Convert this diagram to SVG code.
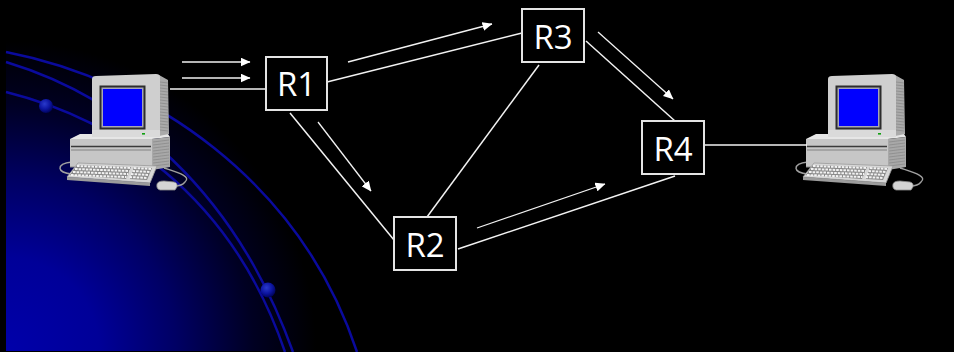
<svg xmlns="http://www.w3.org/2000/svg" xmlns:xlink="http://www.w3.org/1999/xlink" width="954" height="352" viewBox="0 0 954 352">
  <style>
    .link{stroke:#f2f2f2;stroke-width:1.5;fill:none}
    .flow{stroke:#f2f2f2;stroke-width:1.3;fill:none;marker-end:url(#head)}
    .router rect{fill:#000;stroke:#e4e4e4;stroke-width:2}
    .router text{fill:#fff;font-family:"Open Sans","Noto Sans","Liberation Sans",sans-serif;font-size:33px;text-anchor:middle}
    .orbit{fill:none;stroke:#0a0a9c;stroke-width:2.5}
    .vent{stroke:#8a8a8a;stroke-width:0.8}
    .keys{stroke:#f2f2f2;stroke-width:2;stroke-dasharray:2.6 1}
  </style>
  <defs>
    <radialGradient id="planet" gradientUnits="userSpaceOnUse" cx="6" cy="351" r="310">
      <stop offset="0" stop-color="#0000aa"/>
      <stop offset="0.3" stop-color="#000098"/>
      <stop offset="0.55" stop-color="#000064"/>
      <stop offset="0.8" stop-color="#000022"/>
      <stop offset="1" stop-color="#000000"/>
    </radialGradient>
    <radialGradient id="bead" cx="0.4" cy="0.35" r="0.65">
      <stop offset="0" stop-color="#2a3acc"/>
      <stop offset="0.6" stop-color="#0c14a0"/>
      <stop offset="1" stop-color="#00045c"/>
    </radialGradient>
    <marker id="head" markerUnits="userSpaceOnUse" viewBox="0 0 10 9" markerWidth="10" markerHeight="9" refX="9.5" refY="4.5" orient="auto">
      <path d="M0,0 L10,4.5 L0,9 Z" fill="#fff"/>
    </marker>

    <!-- desktop computer: CRT monitor on a flat case, keyboard and mouse -->
    <g id="pc">
      <!-- cables -->
      <path d="M72,174 C57,173 55,164 72,162" fill="none" stroke="#a0a0a0" stroke-width="1.4"/>
      <path d="M164,168 C176,172 192,176 185,182 C181,187 176,186 172,186" fill="none" stroke="#a0a0a0" stroke-width="1.4"/>
      <!-- case -->
      <polygon points="70,139 80,134 168,134 170,137 152,139" fill="#e6e6e6"/>
      <rect x="70" y="139" width="82" height="28" fill="#c6c6c6"/>
      <polygon points="152,139 170,137 170,167 152,170" fill="#a8a8a8"/>
      <g class="vent">
        <line x1="153" y1="142" x2="169" y2="140"/><line x1="153" y1="145" x2="169" y2="143"/>
        <line x1="153" y1="148" x2="169" y2="146"/><line x1="153" y1="151" x2="169" y2="149"/>
        <line x1="153" y1="154" x2="169" y2="152"/><line x1="153" y1="157" x2="169" y2="155"/>
        <line x1="153" y1="160" x2="169" y2="158"/><line x1="153" y1="163" x2="169" y2="161"/>
        <line x1="153" y1="166" x2="169" y2="164"/>
      </g>
      <line x1="71" y1="146.5" x2="151" y2="146.5" stroke="#3a3a3a" stroke-width="1.4"/>
      <line x1="71" y1="150" x2="151" y2="150" stroke="#7c7c7c" stroke-width="0.9"/>
      <line x1="70" y1="167" x2="152" y2="167" stroke="#8c8c8c" stroke-width="1"/>
      <!-- monitor -->
      <polygon points="159,75 168,80 169,134 159,136" fill="#aaaaaa"/>
      <g class="vent">
        <line x1="160" y1="82" x2="168" y2="83"/><line x1="160" y1="85" x2="168" y2="86"/>
        <line x1="160" y1="88" x2="168" y2="89"/><line x1="160" y1="91" x2="168" y2="92"/>
        <line x1="160" y1="94" x2="168" y2="95"/><line x1="160" y1="97" x2="168" y2="98"/>
        <line x1="160" y1="100" x2="168" y2="101"/><line x1="160" y1="103" x2="168" y2="104"/>
        <line x1="160" y1="106" x2="168" y2="107"/><line x1="160" y1="109" x2="168" y2="110"/>
        <line x1="160" y1="112" x2="168" y2="113"/><line x1="160" y1="115" x2="168" y2="116"/>
        <line x1="160" y1="118" x2="168" y2="119"/><line x1="160" y1="121" x2="168" y2="122"/>
        <line x1="160" y1="124" x2="168" y2="125"/><line x1="160" y1="127" x2="168" y2="128"/>
        <line x1="160" y1="130" x2="168" y2="131"/>
      </g>
      <path d="M92,79 Q92,76 96,76 L156,74 Q160,74 160,77 L160,137 L92,137 Z" fill="#cfcfcf"/>
      <path d="M92,130 L160,130 L160,137 L92,137 Z" fill="#dadada"/>
      <rect x="99.5" y="85.5" width="46" height="44" fill="#2c2c2c"/>
      <rect x="101.5" y="87.5" width="42" height="40" fill="#a6a6b6"/>
      <rect x="103" y="89" width="39" height="37" fill="#0000ff"/>
      <rect x="142" y="133" width="3" height="1.6" fill="#10a010"/>
      <!-- keyboard -->
      <polygon points="78,163 157,166 150,183 67,177" fill="#d6d6d6" stroke="#9a9a9a" stroke-width="0.8"/>
      <polygon points="67,177 150,183 150,186 67,180" fill="#9c9c9c"/>
      <polygon points="77,165 131,167 126,179 70,175" fill="#8a8a8a"/>
      <polygon points="134,167 152,168 147,180 130,179" fill="#8a8a8a"/>
      <g class="keys">
        <line x1="77" y1="166" x2="131" y2="168"/>
        <line x1="75" y1="169" x2="129.5" y2="171"/>
        <line x1="73" y1="172" x2="128" y2="174"/>
        <line x1="71" y1="175" x2="126.5" y2="177"/>
        <line x1="134" y1="168" x2="151.5" y2="169"/>
        <line x1="132.5" y1="171" x2="150" y2="172"/>
        <line x1="131" y1="174" x2="148.5" y2="175"/>
        <line x1="129.5" y1="177" x2="147" y2="178"/>
      </g>
      <!-- mouse -->
      <path d="M157,184 Q158,181 164,181 L174,182 Q178,183 177,187 L175,190 L160,190 Q156,189 157,184 Z" fill="#d4d4d4" stroke="#8a8a8a" stroke-width="0.8"/>
    </g>
  </defs>

  <!-- backdrop -->
  <rect x="0" y="0" width="954" height="352" fill="#000"/>
  <rect x="6" y="0" width="948" height="351" fill="url(#planet)"/>
  <g id="orbits">
    <path class="orbit" d="M6,52 C150,80 300,180 357,352"/>
    <path class="orbit" d="M6,62 C125,98 235,190 293,352"/>
    <path class="orbit" d="M6,92 C110,118 230,190 285,352"/>
    <circle cx="46" cy="106" r="7" fill="url(#bead)"/>
    <circle cx="268" cy="290" r="7.5" fill="url(#bead)"/>
  </g>

  <g id="host-a"><use xlink:href="#pc"/></g>
  <g id="host-b"><use xlink:href="#pc" transform="translate(736,0)"/></g>

  <g id="connectors">
    <line class="link" x1="170" y1="89" x2="266" y2="89"/>
    <line class="link" x1="327" y1="82" x2="522" y2="33"/>
    <line class="link" x1="539" y1="65" x2="427" y2="217"/>
    <line class="link" x1="290" y1="113" x2="394" y2="240"/>
    <line class="link" x1="458" y1="249" x2="675" y2="176"/>
    <line class="link" x1="586" y1="41" x2="675" y2="121"/>
    <line class="link" x1="704" y1="145" x2="807" y2="145"/>
    <line class="flow" x1="182" y1="62" x2="250" y2="62"/>
    <line class="flow" x1="182" y1="78" x2="250" y2="78"/>
    <line class="flow" x1="348" y1="62" x2="492" y2="24"/>
    <line class="flow" x1="318" y1="122" x2="371" y2="191"/>
    <line class="flow" x1="477" y1="228" x2="605" y2="184"/>
    <line class="flow" x1="598" y1="32" x2="673" y2="99"/>
  </g>

  <g id="r1" class="router"><rect x="266" y="57" width="61" height="53"/><text x="296.5" y="96">R1</text></g>
  <g id="r2" class="router"><rect x="394" y="217" width="62" height="53"/><text x="425" y="257">R2</text></g>
  <g id="r3" class="router"><rect x="522" y="9" width="62" height="53"/><text x="553" y="49">R3</text></g>
  <g id="r4" class="router"><rect x="642" y="121" width="62" height="53"/><text x="673" y="161">R4</text></g>
</svg>
